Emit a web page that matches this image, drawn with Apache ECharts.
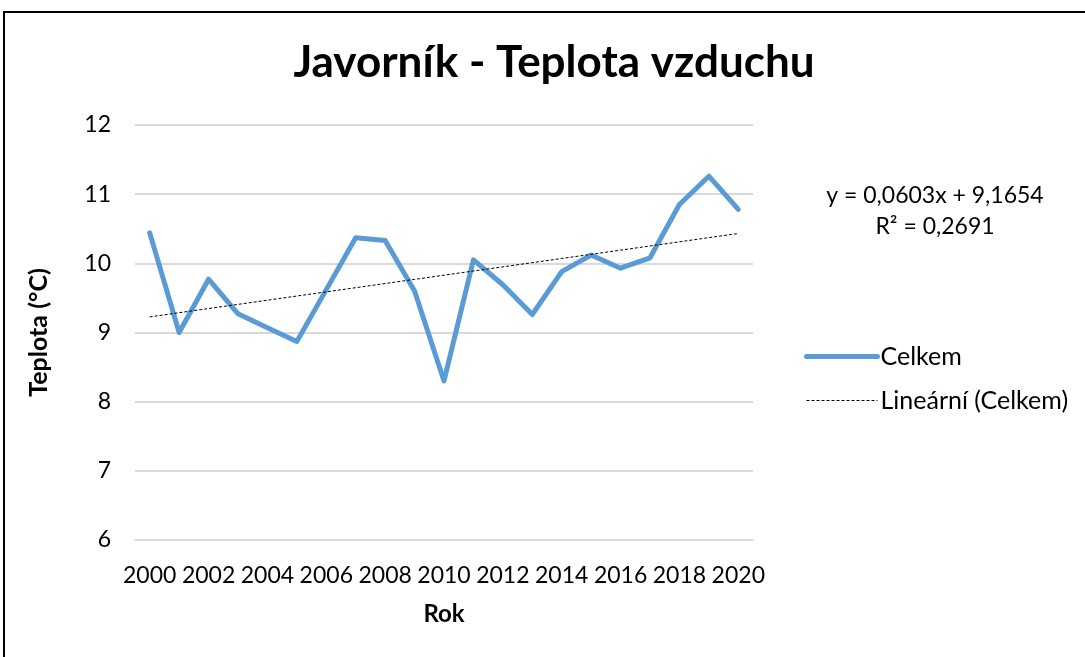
<!DOCTYPE html>
<html>
<head>
<meta charset="utf-8">
<title>Javorník - Teplota vzduchu</title>
<script src="https://cdn.jsdelivr.net/npm/echarts@6/dist/echarts.min.js"></script>
<style>
  html, body { margin: 0; padding: 0; background: #fff; }
  #chart { width: 1085px; height: 657px; }
</style>
</head>
<body>
<div id="chart"></div>
<script>
// roky
const years = ['2000', '2001', '2002', '2003', '2004', '2005', '2006', '2007', '2008', '2009', '2010',
  '2011', '2012', '2013', '2014', '2015', '2016', '2017', '2018', '2019', '2020'];
// prumerna teplota (°C)
const celkem = [10.44, 9.00, 9.77, 9.27, 9.07, 8.87, 9.62, 10.37, 10.33, 9.60, 8.30,
  10.05, 9.69, 9.26, 9.88, 10.12, 9.93, 10.08, 10.85, 11.26, 10.78];
// linearni trend z rovnice v grafu (x = 1..21)
const trendSlope = 0.0603;
const trendIntercept = 9.1654;
const trendLabel = ['y = 0,0603x + 9,1654', 'R² = 0,2691'];

const font = 'Lato, "Open Sans", sans-serif';
const trend = years.map((y, i) => +(trendSlope * (i + 1) + trendIntercept).toFixed(4));

const chart = echarts.init(document.getElementById('chart'));
chart.setOption({
  animation: false,
  textStyle: { fontFamily: font },
  title: {
    text: 'Javorník - Teplota vzduchu',
    left: 549,
    top: 36,
    textAlign: 'center',
    textStyle: { fontSize: 44, fontWeight: 'bold', color: '#000', fontFamily: font },
  },
  grid: { left: 135, right: 332, top: 125, bottom: 117 },
  legend: {
    orient: 'vertical',
    left: 799,
    top: 339,
    itemWidth: 71,
    itemHeight: 14,
    itemGap: 19,
    itemStyle: { opacity: 0 },
    textStyle: { fontSize: 25, color: '#000', fontFamily: font, padding: [0, 0, 0, -2] },
    data: [
      { name: 'Celkem', lineStyle: { width: 5, cap: 'round' } },
      { name: 'Lineární (Celkem)', lineStyle: { width: 1 } },
    ],
  },
  xAxis: {
    type: 'category',
    data: years,
    boundaryGap: true,
    name: 'Rok',
    nameLocation: 'middle',
    nameGap: 62,
    nameTextStyle: { fontSize: 24, fontWeight: 'bold', color: '#000' },
    axisTick: { show: false },
    axisLine: { lineStyle: { color: '#d9d9d9', width: 2 } },
    axisLabel: { interval: 1, fontSize: 23, color: '#000', margin: 24 },
  },
  yAxis: {
    type: 'value',
    min: 6,
    max: 12,
    interval: 1,
    name: 'Teplota (°C)',
    nameLocation: 'middle',
    nameGap: 84,
    nameTextStyle: { fontSize: 25, fontWeight: 'bold', color: '#000' },
    axisLine: { show: false },
    axisTick: { show: false },
    axisLabel: { fontSize: 23, color: '#000', margin: 24 },
    splitLine: { lineStyle: { color: '#d9d9d9', width: 2 } },
  },
  graphic: [
    {
      type: 'rect',
      silent: true,
      z: -1,
      shape: { x: 4, y: 12, width: 1200, height: 800 },
      style: { fill: 'none', stroke: '#000', lineWidth: 2 },
    },
    {
      type: 'text',
      x: 935,
      y: 180,
      style: {
        text: trendLabel.join('\n'),
        fontSize: 23,
        fontFamily: font,
        fill: '#000',
        align: 'center',
        lineHeight: 31,
      },
    },
  ],
  series: [
    {
      name: 'Celkem',
      type: 'line',
      data: celkem,
      symbol: 'none',
      lineStyle: { color: '#5b9bd5', width: 5, cap: 'round', join: 'round' },
      itemStyle: { color: '#5b9bd5' },
      z: 2,
    },
    {
      name: 'Lineární (Celkem)',
      type: 'line',
      data: trend,
      symbol: 'none',
      lineStyle: { color: '#000', width: 1, type: [3, 2] },
      itemStyle: { color: '#000' },
      z: 3,
    },
  ],
});
</script>
</body>
</html>
